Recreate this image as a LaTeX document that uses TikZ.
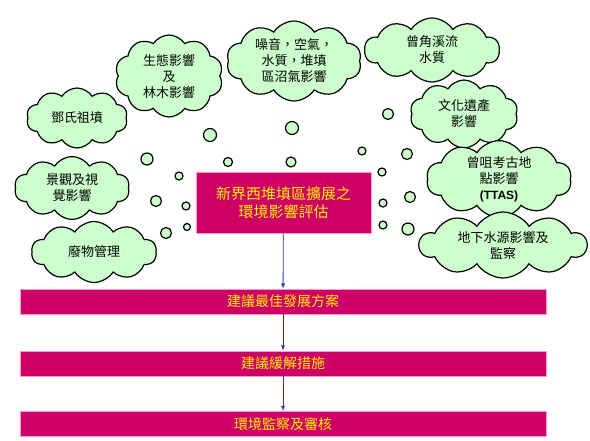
\documentclass[tikz,border=0pt]{standalone}
\usepackage{fontspec}
\usepackage{xcolor}
\usepackage{tikz}
\usetikzlibrary{shapes.symbols}
\setmainfont{Noto Sans CJK TC}
\newfontfamily\latinfont{Liberation Sans}
\definecolor{cloudgreen}{RGB}{204,255,204}
\definecolor{eiared}{RGB}{204,0,102}
\definecolor{edgepink}{RGB}{255,153,204}
\definecolor{arrowblue}{RGB}{51,51,153}

\begin{document}
\begin{tikzpicture}[x=1pt,y=-1pt,>=latex,
    cloudbox/.style={cloud,cloud puffs=10,cloud puff arc=115,cloud ignores aspect,
      draw=black,line width=1.2pt,fill=cloudgreen,inner sep=0pt,align=center,
      font=\fontsize{13}{16}\selectfont},
    bubble/.style={draw=black,line width=1.2pt,fill=cloudgreen},
    eiabox/.style={draw=edgepink,line width=0.8pt,fill=eiared,text=yellow,align=center,
      font=\fontsize{15}{18}\selectfont},
    bar/.style={draw=edgepink,line width=0.8pt,fill=eiared,text=yellow,
      minimum width=526pt,minimum height=25pt,inner sep=0pt,
      font=\fontsize{14}{16}\selectfont},
    flow/.style={->,draw=arrowblue,line width=0.8pt}]
  \useasboundingbox (0,0) rectangle (590,440);

  % thought bubbles
  \foreach \x/\y/\r in {210/135/6.5,292/128/6.5,388/114/5.5,
      147/159/6,228/162/4.5,291/162/5,362/151/4,407/154/5.5,
      179/176/4,382/172/4,156/201/5.5,186/206/4,410/197/5.5,383/203/4,
      166/233/5.5,187/227/3.5,383/225/4,408/229/6}
    \draw[bubble] (\x,\y) circle (\r);

  % clouds
  \node[cloudbox,minimum width=101pt,minimum height=60pt] (tomb) at (77,118) {鄧氏祖墳};
  \node[cloudbox,minimum width=108pt,minimum height=82pt] (eco) at (169,76) {生態影響\\及\\林木影響};
  \node[cloudbox,minimum width=135pt,minimum height=80pt] (noise) at (294,61) {噪音，空氣，\\水質，堆填\\區沼氣影響};
  \node[cloudbox,minimum width=135pt,minimum height=64pt] (stream) at (432,50) {曾角溪流\\水質};
  \node[cloudbox,minimum width=108pt,minimum height=68pt] (herit) at (464,114) {文化遺產\\影響};
  \node[cloudbox,minimum width=145pt,minimum height=64pt] (ttas) at (499,179) {曾咀考古地\\點影響\\{\latinfont\bfseries\fontsize{12}{14}\selectfont (TTAS)}};
  \node[cloudbox,minimum width=167pt,minimum height=66pt] (ground) at (503,245) {地下水源影響及\\監察};
  \node[cloudbox,minimum width=115pt,minimum height=63pt] (view) at (72,188) {景觀及視\\覺影響};
  \node[cloudbox,minimum width=125pt,minimum height=61pt] (waste) at (94,252) {廢物管理};

  % main flow
  \node[eiabox,minimum width=175pt,minimum height=61pt] (eia) at (283.5,202.5) {新界西堆填區擴展之\\環境影響評估};
  \node[bar] (b1) at (283,301.5) {建議最佳發展方案};
  \node[bar] (b2) at (283,363.5) {建議緩解措施};
  \node[bar] (b3) at (283,424) {環境監察及審核};
  \draw[flow] (eia) -- (b1);
  \draw[flow] (b1) -- (b2);
  \draw[flow] (b2) -- (b3);
\end{tikzpicture}
\end{document}
